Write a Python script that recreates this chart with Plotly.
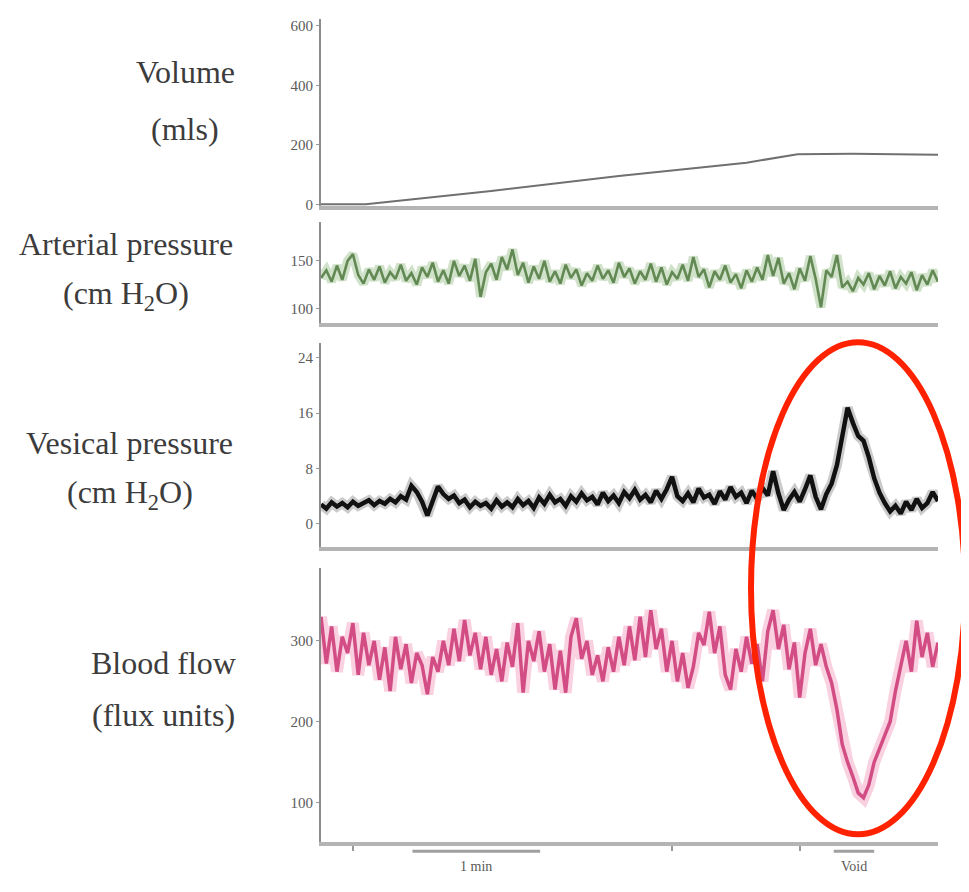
import numpy as np
import plotly.graph_objects as go

# ---------------- data ----------------
# sample times in seconds (2.5 s sampling, 0..290 s)
time_s = [2.5 * i for i in range(117)]

# bladder volume (mls): infusion then plateau
volume_t = [0, 21, 80, 140, 200, 224, 250, 290]
volume_ml = [0, 0, 45, 95, 140, 168, 170, 167]

arterial = [
    132, 140, 128, 145, 130, 150, 157, 135, 126, 141,
    130, 144, 127, 138, 131, 146, 129, 137, 125, 143,
    133, 148, 128, 140, 126, 150, 134, 145, 129, 152,
    112, 138, 147, 130, 154, 141, 162, 135, 148, 127,
    144, 131, 150, 128, 139, 126, 146, 132, 141, 124,
    137, 129, 145, 131, 140, 127, 148, 133, 142, 126,
    139, 130, 147, 128, 143, 125, 138, 131, 146, 129,
    154, 133, 141, 122, 139, 130, 145, 127, 136, 121,
    140, 128, 143, 130, 156, 134, 153, 126, 137, 120,
    142, 129, 155, 131, 101, 140, 133, 156, 122, 128,
    118, 132, 125, 137, 120, 134, 124, 139, 121, 133,
    126, 138, 119, 135, 125, 140, 128,
]

vesical = [
    2.8, 2.2, 3.1, 2.5, 3.0, 2.4, 3.2, 2.6, 3.0, 3.4,
    2.7, 3.3, 2.9, 3.6, 3.1, 4.0, 3.5, 5.5, 4.6, 3.2,
    1.2, 3.5, 5.4, 4.3, 3.6, 4.1, 3.0, 3.5, 2.4, 3.2,
    2.6, 3.0, 2.2, 3.4, 2.5, 3.1, 2.4, 3.6, 2.7, 3.3,
    2.3, 3.8, 2.9, 4.2, 3.1, 3.6, 2.6, 4.0, 3.2, 4.4,
    3.4, 3.9, 2.8, 4.5, 3.3, 4.1, 3.0, 4.6, 3.7, 4.9,
    3.5, 4.2, 3.1, 4.8, 3.6, 5.0, 6.8, 4.0, 3.3, 4.4,
    3.1, 5.1, 3.8, 4.2, 2.9, 4.7, 3.5, 5.3, 3.9, 4.5,
    3.0, 4.8, 3.6, 5.2, 4.1, 7.6, 4.4, 2.0, 3.5, 4.6,
    3.2, 5.0, 7.0, 3.9, 2.1, 4.3, 5.8, 8.5, 12.5, 16.8,
    14.6, 12.7, 12.0, 9.6, 6.6, 4.5, 3.0, 1.8, 2.6, 1.5,
    3.2, 2.0, 3.6, 2.3, 3.0, 4.6, 3.3,
]

blood_flow = [
    330, 272, 318, 262, 305, 285, 322, 258, 310, 270,
    300, 252, 292, 238, 305, 265, 296, 248, 285, 270,
    234, 280, 262, 300, 270, 315, 275, 326, 282, 310,
    265, 305, 258, 290, 250, 298, 268, 322, 236, 300,
    275, 312, 262, 296, 240, 288, 236, 305, 328, 278,
    300, 258, 282, 250, 292, 262, 305, 270, 318, 276,
    330, 280, 338, 290, 315, 262, 300, 250, 285, 242,
    268, 310, 295, 336, 285, 318, 258, 240, 290, 262,
    305, 272, 296, 250, 312, 338, 290, 320, 265, 298,
    230, 285, 315, 270, 296, 268, 248, 215, 172, 150,
    132, 112, 106, 122, 150, 166, 182, 200, 238, 270,
    300, 262, 325, 280, 310, 268, 298,
]

volume_ticks = [0, 200, 400, 600]
arterial_ticks = [100, 150]
vesical_ticks = [0, 8, 16, 24]
blood_ticks = [100, 200, 300]

minute_bar = [43, 103]      # 1 min scale bar (s)
void_bar = [241, 260]       # void marker (s)

panel_labels = [
    ("Volume", "(mls)"),
    ("Arterial pressure", "(cm H<sub>2</sub>O)"),
    ("Vesical pressure", "(cm H<sub>2</sub>O)"),
    ("Blood flow", "(flux units)"),
]

# ---------------- layout geometry ----------------
# page body has an 8 px margin, so the figure is drawn 8 px in from the corner
OFF = 8
W, H = 969 - 2 * OFF, 892 - 2 * OFF
def py(p):
    return 1 - (p - OFF) / H
def px(p):
    return (p - OFF) / W

x_dom = [px(321), px(938)]
domains = [
    [py(207), py(18)],
    [py(325), py(223)],
    [py(550), py(345)],
    [py(848), py(572)],
]
ranges = [[-7, 623], [84, 190.6], [-3.3, 26.1], [50.9, 389.6]]
ticks = [volume_ticks, arterial_ticks, vesical_ticks, blood_ticks]

SERIF = "Liberation Serif"
fig = go.Figure()

fig.add_trace(go.Scatter(x=volume_t, y=volume_ml, mode="lines",
                         line=dict(color="#707070", width=2),
                         xaxis="x", yaxis="y", showlegend=False))
fig.add_trace(go.Scatter(x=time_s, y=arterial, mode="lines",
                         line=dict(color="#8fb77c", width=9), opacity=0.4,
                         xaxis="x2", yaxis="y2", showlegend=False))
fig.add_trace(go.Scatter(x=time_s, y=arterial, mode="lines",
                         line=dict(color="#4f7a3f", width=2.6), opacity=0.85,
                         xaxis="x2", yaxis="y2", showlegend=False))
fig.add_trace(go.Scatter(x=time_s, y=vesical, mode="lines",
                         line=dict(color="#555555", width=10), opacity=0.3,
                         xaxis="x3", yaxis="y3", showlegend=False))
fig.add_trace(go.Scatter(x=time_s, y=vesical, mode="lines",
                         line=dict(color="#111111", width=4.5),
                         xaxis="x3", yaxis="y3", showlegend=False))
fig.add_trace(go.Scatter(x=time_s, y=blood_flow, mode="lines",
                         line=dict(color="#f08cb4", width=12), opacity=0.4,
                         xaxis="x4", yaxis="y4", showlegend=False))
fig.add_trace(go.Scatter(x=time_s, y=blood_flow, mode="lines",
                         line=dict(color="#cf3f7c", width=3.5), opacity=0.9,
                         xaxis="x4", yaxis="y4", showlegend=False))

layout = dict(
    width=W, height=H,
    margin=dict(l=0, r=0, t=0, b=0),
    paper_bgcolor="white", plot_bgcolor="white",
    showlegend=False,
)
for i in range(4):
    n = "" if i == 0 else str(i + 1)
    layout["xaxis" + n] = dict(
        domain=x_dom, range=[0, 290], anchor="y" + n,
        showgrid=False, zeroline=False, showticklabels=False,
        showline=True, linecolor="#b4b4b4", linewidth=4,
        ticks="", fixedrange=True,
    )
    layout["yaxis" + n] = dict(
        domain=domains[i], range=ranges[i], anchor="x" + n,
        showgrid=False, zeroline=False,
        showline=True, linecolor="#8c8c8c", linewidth=2,
        tickvals=ticks[i], ticktext=[str(v) for v in ticks[i]],
        ticks="outside", ticklen=3, tickcolor="#999999",
        tickfont=dict(family=SERIF, size=15, color="#5a5a5a"),
    )
layout["xaxis4"].update(tickvals=[15, 165, 225], ticks="outside",
                        ticklen=5, tickcolor="#999999", tickwidth=1.5)
fig.update_layout(**layout)

# panel labels (left)
label_pos = [(185, 72, 129), (126, 245, 297), (130, 445, 497), (163, 667, 720)]
for (title, unit), (cx, y1, y2) in zip(panel_labels, label_pos):
    for txt, yy in ((title, y1), (unit, y2)):
        fig.add_annotation(x=px(cx), y=py(yy), xref="paper", yref="paper",
                           text=txt, showarrow=False,
                           font=dict(family=SERIF, size=32, color="#3c3c3c"),
                           xanchor="center", yanchor="middle")

# time scale bar + void marker under blood flow axis
for bar in (minute_bar, void_bar):
    fig.add_shape(type="line", xref="x4", yref="paper",
                  x0=bar[0], x1=bar[1], y0=py(857), y1=py(857),
                  line=dict(color="#a0a0a0", width=3))
fig.add_annotation(x=sum(minute_bar) / 2, y=py(882), xref="x4", yref="paper",
                   text="1 min", showarrow=False,
                   font=dict(family=SERIF, size=14, color="#5a5a5a"))
fig.add_annotation(x=sum(void_bar) / 2, y=py(882), xref="x4", yref="paper",
                   text="Void", showarrow=False,
                   font=dict(family=SERIF, size=14, color="#5a5a5a"))

# red highlight ellipse
fig.add_shape(type="circle", xref="paper", yref="paper",
              x0=px(751), x1=px(965), y0=py(840), y1=py(344),
              line=dict(color="#ff2200", width=6), fillcolor="rgba(0,0,0,0)")

fig.write_html("out.html")
